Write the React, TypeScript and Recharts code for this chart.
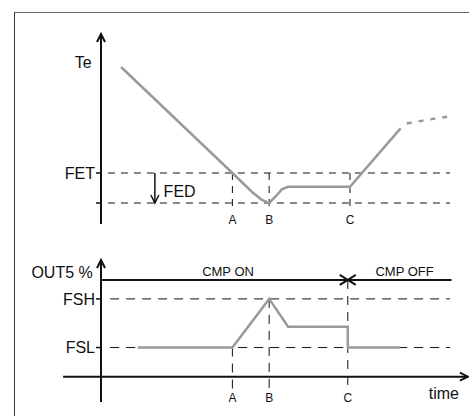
import React from "react";
import { LineChart, Line, XAxis, YAxis, ReferenceLine, ReferenceDot } from "recharts";

// time axis shared by both panels (0 = vertical axis, 100 = end of x arrow)
const markLabels = ["A", "B", "C"];
const topMarkTimes = [36.1, 46.2, 68.4];
const bottomMarkTimes = [36.1, 46.2, 67.8];

// upper panel: evaporator temperature Te
const teTimes = [5.5, 36.1, 41.5, 44.2, 46.2, 48.1, 49.7, 51.4, 68.4, 82.3];
const teValues = [78.5, 25.5, 16, 12, 10.5, 14, 17.3, 18.6, 18.6, 47.8];
const teTrendTimes = [84, 90.4, 96.3];
const teTrendValues = [50.3, 52.3, 54];
const fet = 25.5;
const fetMinusFed = 10.5;

// lower panel: OUT5 %
const outTimes = [10.1, 36.1, 46.2, 51.4, 67.8, 67.8, 82.1];
const outValues = [30, 30, 80, 51.4, 51.4, 30, 30];
const fsh = 80;
const fsl = 30;
const cmpLevel = 99.5;

const teData = teTimes.map((t, i) => ({ t, v: teValues[i] }));
const teTrendData = teTrendTimes.map((t, i) => ({ t, v: teTrendValues[i] }));
const outData = outTimes.map((t, i) => ({ t, v: outValues[i] }));

const GRAY = "#9a9a9a";
const INK = "#111";

const arrowShape = (head: boolean, size = 8, half = 4) => (props: any) => {
  const { x1, y1, x2, y2, stroke, strokeWidth, strokeDasharray } = props;
  const dx = x2 - x1;
  const dy = y2 - y1;
  const len = Math.hypot(dx, dy) || 1;
  const ux = dx / len;
  const uy = dy / len;
  const bx = x2 - ux * size;
  const by = y2 - uy * size;
  const px = -uy * half;
  const py = ux * half;
  return (
    <g>
      <line x1={x1} y1={y1} x2={x2} y2={y2} stroke={stroke} strokeWidth={strokeWidth} strokeDasharray={strokeDasharray} />
      {head && (
        <polyline
          points={`${bx + px},${by + py} ${x2},${y2} ${bx - px},${by - py}`}
          fill="none"
          stroke={stroke}
          strokeWidth={strokeWidth}
        />
      )}
    </g>
  );
};

const textAt = (x: number, y: number, value: string, fontSize = 16) => (
  <ReferenceDot
    key={value}
    x={x}
    y={y}
    r={0}
    fill="none"
    stroke="none"
    ifOverflow="visible"
    label={{ value, position: "center", fontSize, fill: INK }}
  />
);

export default function App() {
  return (
    <div
      style={{
        position: "absolute",
        left: 0,
        top: 0,
        width: 469,
        height: 416,
        overflow: "hidden",
        background: "#fff",
        fontFamily: "'Liberation Sans', Arial, sans-serif",
      }}
    >
      <div
        style={{
          position: "absolute",
          left: 14,
          top: 12,
          width: 455,
          height: 404,
          boxSizing: "border-box",
          borderLeft: "1px solid #333",
          borderTop: "1px solid #666",
        }}
      />

      <div style={{ position: "absolute", left: 0, top: 0 }}>
        <LineChart width={469} height={235} margin={{ top: 34, right: 4, bottom: 11, left: 41 }}>
          <XAxis type="number" dataKey="t" domain={[0, 100]} hide allowDataOverflow />
          <YAxis
            type="number"
            domain={[0, 95]}
            width={60}
            ticks={[fetMinusFed, fet]}
            tickFormatter={(v: number) => (v === fet ? "FET" : "")}
            axisLine={false}
            tickLine={{ stroke: INK, strokeWidth: 1.5 }}
            tickSize={5}
            tickMargin={1}
            tick={{ fontSize: 16, fill: INK }}
            interval={0}
            allowDataOverflow
          />
          {[fet, fetMinusFed].map((y) => (
            <ReferenceLine
              key={y}
              segment={[{ x: 1.9, y }, { x: 95.9, y }]}
              stroke={INK}
              strokeWidth={1}
              strokeDasharray="7 6"
              ifOverflow="visible"
            />
          ))}
          {topMarkTimes.map((x, i) => (
            <ReferenceLine
              key={markLabels[i]}
              segment={[{ x, y: fet }, { x, y: 6 }]}
              stroke={INK}
              strokeWidth={1}
              strokeDasharray="7 6"
              ifOverflow="visible"
              label={{ value: markLabels[i], position: "bottom", offset: 3, fontSize: 12, fill: INK }}
            />
          ))}
          <ReferenceLine
            segment={[{ x: 0, y: 0 }, { x: 0, y: 95 }]}
            stroke={INK}
            strokeWidth={2}
            ifOverflow="visible"
            shape={arrowShape(true)}
          />
          <ReferenceLine
            segment={[{ x: 14.8, y: fet }, { x: 14.8, y: fetMinusFed }]}
            stroke={INK}
            strokeWidth={1.5}
            ifOverflow="visible"
            shape={arrowShape(true, 8, 4)}
          />
          <Line data={teData} dataKey="v" type="linear" stroke={GRAY} strokeWidth={2.5} dot={false} isAnimationActive={false} />
          <Line
            data={teTrendData}
            dataKey="v"
            type="linear"
            stroke={GRAY}
            strokeWidth={2.5}
            strokeDasharray="5 7"
            dot={false}
            isAnimationActive={false}
          />
          {textAt(-4.9, 81, "Te")}
          {textAt(21.6, 16.5, "FED")}
        </LineChart>
      </div>

      <div style={{ position: "absolute", left: 0, top: 235 }}>
        <LineChart width={469} height={181} margin={{ top: 25, right: 4, bottom: 14, left: 41 }}>
          <XAxis type="number" dataKey="t" domain={[0, 100]} hide allowDataOverflow />
          <YAxis
            type="number"
            domain={[-26, 120]}
            width={60}
            ticks={[fsl, fsh]}
            tickFormatter={(v: number) => (v === fsh ? "FSH" : "FSL")}
            axisLine={false}
            tickLine={{ stroke: INK, strokeWidth: 1.5 }}
            tickSize={5}
            tickMargin={1}
            tick={{ fontSize: 16, fill: INK }}
            interval={0}
            allowDataOverflow
          />
          {[fsh, fsl].map((y) => (
            <ReferenceLine
              key={y}
              segment={[{ x: 2.5, y }, { x: 95.9, y }]}
              stroke={INK}
              strokeWidth={1}
              strokeDasharray="9 7"
              ifOverflow="visible"
            />
          ))}
          {bottomMarkTimes.map((x, i) => (
            <ReferenceLine
              key={markLabels[i]}
              segment={[{ x, y: [fsl, fsh, cmpLevel][i] }, { x, y: -14 }]}
              stroke={INK}
              strokeWidth={1}
              strokeDasharray="9 7"
              ifOverflow="visible"
              label={{ value: markLabels[i], position: "bottom", offset: 3, fontSize: 12, fill: INK }}
            />
          ))}
          <ReferenceLine
            segment={[{ x: 0, y: -26 }, { x: 0, y: 120 }]}
            stroke={INK}
            strokeWidth={2}
            ifOverflow="visible"
            shape={arrowShape(true)}
          />
          <ReferenceLine
            segment={[{ x: -10.4, y: 0 }, { x: 100.8, y: 0 }]}
            stroke={INK}
            strokeWidth={2}
            ifOverflow="visible"
            shape={arrowShape(true)}
          />
          <ReferenceLine
            segment={[{ x: 0.3, y: cmpLevel }, { x: bottomMarkTimes[2], y: cmpLevel }]}
            stroke={INK}
            strokeWidth={2}
            ifOverflow="visible"
            shape={arrowShape(true, 8, 5)}
          />
          <ReferenceLine
            segment={[{ x: 96.3, y: cmpLevel }, { x: bottomMarkTimes[2], y: cmpLevel }]}
            stroke={INK}
            strokeWidth={2}
            ifOverflow="visible"
            shape={arrowShape(true, 8, 5)}
          />
          <Line data={outData} dataKey="v" type="linear" stroke={GRAY} strokeWidth={2.5} dot={false} isAnimationActive={false} />
          {textAt(-10.7, 107, "OUT5 %")}
          {textAt(34.9, 108, "CMP ON", 13)}
          {textAt(83.4, 108, "CMP OFF", 13)}
          {textAt(94.2, -16.8, "time")}
        </LineChart>
      </div>
    </div>
  );
}
